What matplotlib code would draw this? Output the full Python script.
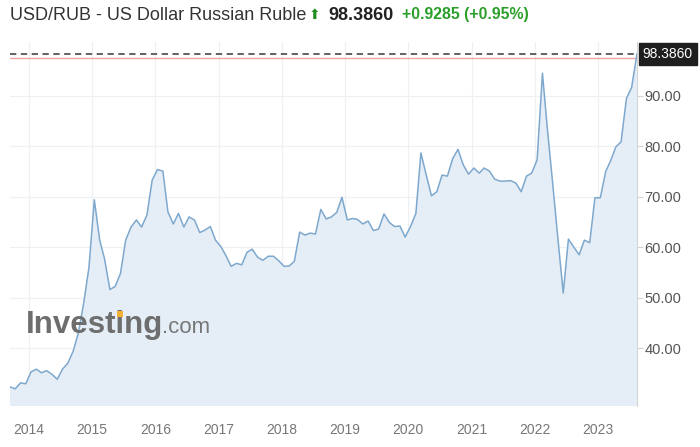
import pandas as pd
import matplotlib
matplotlib.use("Agg")
from matplotlib import pyplot as plt
from matplotlib.patches import Rectangle
from matplotlib.ticker import FuncFormatter

TITLE = "USD/RUB - US Dollar Russian Ruble"
LAST = 98.3860
CHANGE = 0.9285
CHANGE_PCT = 0.95

# monthly closes, Sep 2013 .. Aug 2023 (last = current quote)
START = "2013-09"
rates = [
    32.3, 31.9, 33.1, 32.9,                                            # 2013
    35.3, 35.8, 35.1, 35.5, 34.8, 33.8, 35.8, 37.0, 39.4, 43.0, 49.0, 56.0,  # 2014
    69.4, 61.4, 57.7, 51.6, 52.2, 54.8, 61.4, 64.0, 65.4, 64.0, 66.4, 73.3,  # 2015
    75.4, 75.1, 67.0, 64.6, 66.7, 64.0, 66.0, 65.4, 62.9, 63.4, 64.1, 61.4,  # 2016
    60.1, 58.2, 56.2, 56.8, 56.5, 59.0, 59.6, 58.0, 57.4, 58.2, 58.2, 57.3,  # 2017
    56.2, 56.3, 57.2, 63.0, 62.4, 62.8, 62.6, 67.5, 65.6, 66.0, 66.9, 69.9,  # 2018
    65.4, 65.7, 65.5, 64.6, 65.2, 63.3, 63.6, 66.6, 64.9, 64.1, 64.2, 62.0,  # 2019
    64.1, 66.7, 78.7, 74.3, 70.2, 71.0, 74.3, 74.1, 77.6, 79.4, 76.3, 74.5,  # 2020
    75.7, 74.7, 75.7, 75.1, 73.5, 73.1, 73.1, 73.2, 72.7, 71.0, 74.1, 74.7,  # 2021
    77.3, 94.5, 83.6, 72.7, 61.8, 50.9, 61.6, 60.0, 58.5, 61.4, 60.9, 69.8,  # 2022
    69.8, 75.0, 77.1, 79.9, 80.9, 89.5, 91.7, 98.386,                    # 2023
]
years = list(range(2014, 2024))
y_ticks = [40, 50, 60, 70, 80, 90]

LINE = "#7ea8cd"
FILL = "#e5eef6"
GRID = "#eef0f3"
FONT = ["Liberation Sans", "DejaVu Sans"]
GREEN = "#2a9f2a"

plt.rcParams["font.family"] = FONT

dates = pd.date_range(START, periods=len(rates), freq="MS") + pd.Timedelta(days=13)

fig = plt.figure(figsize=(7, 4.47), dpi=100)
ax = fig.add_axes([10 / 700, 1 - 406 / 447, 627 / 700, 364 / 447])

ax.fill_between(dates, rates, 0, color=FILL, lw=0, zorder=1)
ax.plot(dates, rates, color=LINE, lw=1.1, zorder=3)
ax.axhline(LAST - CHANGE, color="#f2a3a3", lw=1.0, zorder=2)
ax.axhline(LAST, color="#555555", lw=1.3, ls=(0, (3.5, 2.5)), zorder=4)

ax.set_xlim(dates[0], dates[-1])
ax.set_ylim(28.5, 100.7)

ax.set_xticks([pd.Timestamp(f"{y}-01-01") for y in years])
ax.set_xticklabels([str(y) for y in years])
ax.yaxis.tick_right()
ax.set_yticks(y_ticks)
ax.yaxis.set_major_formatter(FuncFormatter(lambda v, p: f"{v:.2f}"))

ax.grid(True, color=GRID, lw=0.9, zorder=0)
ax.set_axisbelow(True)
for side in ["top", "left", "bottom"]:
    ax.spines[side].set_visible(False)
ax.spines["right"].set_color("#d5d5d5")

ax.tick_params(axis="x", length=0, pad=12, labelsize=10, labelcolor="#777777")
ax.tick_params(axis="y", length=4, color="#d5d5d5", pad=1.5, labelsize=10.5,
               labelcolor="#555555")

# current price tag
ax.annotate(f"{LAST:.4f}", xy=(1, LAST), xycoords=("axes fraction", "data"),
            xytext=(4, 0), textcoords="offset points", va="center", ha="left",
            fontsize=10, color="white",
            bbox=dict(boxstyle="square,pad=0.28", fc="#1e1e1e", ec="#1e1e1e"))

# header
fig.text(10 / 700, 1 - 15 / 447, TITLE, fontsize=13, color="#333333", va="center")
fig.text(309 / 700, 1 - 15 / 447, "\u2b06", fontsize=10, color="#1e8c1e",
         va="center", family=["DejaVu Sans"])
fig.text(328 / 700, 1 - 15 / 447, f"{LAST:.4f}", fontsize=13, fontweight="bold",
         color="#222222", va="center")
fig.text(402 / 700, 1 - 15 / 447, f"+{CHANGE:.4f} (+{CHANGE_PCT:.2f}%)", fontsize=11.4,
         fontweight="bold", color=GREEN, va="center")

# watermark
fig.text(26 / 700, 1 - 333 / 447, "Investing", fontsize=22.5, fontweight="bold",
         color="#6e6e6e", va="baseline", zorder=5)
fig.text(162 / 700, 1 - 333 / 447, ".com", fontsize=16, color="#777777",
         va="baseline", zorder=5)
fig.add_artist(Rectangle((117.5 / 700, 1 - 316.5 / 447), 6 / 700, 6 / 447,
                         transform=fig.transFigure, color="#f2b233", lw=0, zorder=6))

fig.savefig("out.png", dpi=100)
